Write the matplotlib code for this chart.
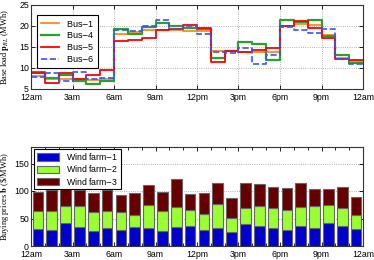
import matplotlib
matplotlib.use("Agg")
import matplotlib.pyplot as plt
import numpy as np

hours = np.arange(24)
bus1 = [8.2, 7.4, 7.3, 7.3, 7.2, 7.4, 18.0, 18.5, 19.0, 19.0, 19.0, 18.8, 18.7, 14.1, 14.0, 13.7, 13.7, 13.8, 19.9, 20.4, 20.2, 17.9, 12.3, 11.6]
bus4 = [9.0, 7.5, 8.4, 6.8, 6.3, 7.0, 19.2, 18.0, 19.7, 20.6, 20.0, 19.5, 19.2, 12.3, 14.0, 16.2, 15.8, 12.0, 21.5, 20.9, 21.5, 17.6, 13.1, 11.1]
bus5 = [8.8, 6.5, 8.7, 7.4, 8.3, 9.5, 16.5, 16.7, 17.2, 19.1, 19.2, 20.3, 19.5, 11.5, 14.0, 13.8, 14.3, 14.8, 19.9, 21.2, 19.6, 17.1, 12.2, 11.8]
bus6 = [7.8, 8.7, 6.8, 9.0, 7.4, 7.6, 19.0, 18.9, 20.0, 21.4, 19.2, 19.9, 18.2, 13.8, 13.5, 14.8, 10.9, 13.2, 19.7, 19.0, 18.4, 19.3, 12.2, 10.9]

wind1 = [31, 30, 42, 35, 27, 33, 29, 35, 33, 27, 35, 37, 29, 32, 26, 40, 36, 33, 29, 37, 33, 41, 36, 31]
wind2 = [33, 34, 31, 38, 35, 31, 32, 22, 42, 37, 36, 28, 30, 44, 25, 30, 37, 36, 36, 34, 40, 34, 33, 26]
wind3 = [35, 38, 38, 28, 34, 37, 32, 39, 36, 35, 50, 30, 37, 38, 37, 44, 39, 38, 40, 43, 31, 28, 38, 32]

tick_pos = [0, 3, 6, 9, 12, 15, 18, 21, 24]
tick_labels = ["12am", "3am", "6am", "9am", "12pm", "3pm", "6pm", "9pm", "12am"]

plt.rcParams['font.family'] = ['Liberation Sans', 'DejaVu Sans']
plt.rcParams['mathtext.fontset'] = 'stix'

fig = plt.figure(figsize=(3.74, 2.60), dpi=100)
L, R = 31, 363
ax1 = fig.add_axes([L/374, 1-89/260, (R-L)/374, 84/260])
ax2 = fig.add_axes([L/374, 1-246/260, (R-L)/374, 99/260])

def stepdata(v):
    return np.append(hours, 24), np.append(v, v[-1])

series = [(bus1, '#FF7F0E', '-', 1.2, 'Bus$-$1'),
          (bus4, '#2CA02C', '-', 1.6, 'Bus$-$4'),
          (bus5, '#FF0000', '-', 1.3, 'Bus$-$5'),
          (bus6, '#3355FF', '--', 1.2, 'Bus$-$6')]
for v, c, ls, lw, lab in series:
    x, y = stepdata(v)
    ax1.step(x, y, where='post', color=c, ls=ls, lw=lw, label=lab)

ax1.set_xlim(0, 24)
ax1.set_ylim(5, 25)
ax1.set_yticks([5, 10, 15, 20, 25])
ax1.set_xticks(tick_pos)
ax1.set_xticklabels(tick_labels)
ax1.grid(True, ls=':', color='#999999', lw=0.6)
ax1.set_ylabel('Base load $\\mathbf{p}_{RL}$ (MWh)', family='Liberation Serif', fontsize=6)
leg = ax1.legend(loc='upper left', fontsize=6.5, fancybox=False, edgecolor='black',
                 framealpha=1, borderpad=0.4, handlelength=2.0, labelspacing=0.2,
                 bbox_to_anchor=(0.005, 0.935))
leg.get_frame().set_linewidth(0.8)

w = 0.78
b1 = np.array(wind1); b2 = np.array(wind2); b3 = np.array(wind3)
ax2.bar(hours + 0.5, b1, width=w, color='#0000CC', edgecolor='#666666', lw=0.8, label='Wind farm$-$1')
ax2.bar(hours + 0.5, b2, width=w, bottom=b1, color='#99FF33', edgecolor='#666666', lw=0.8, label='Wind farm$-$2')
ax2.bar(hours + 0.5, b3, width=w, bottom=b1 + b2, color='#660000', edgecolor='#666666', lw=0.8, label='Wind farm$-$3')
ax2.set_xlim(0, 24)
ax2.set_ylim(0, 180)
ax2.set_yticks([0, 50, 100, 150])
ax2.set_xticks(tick_pos)
ax2.set_xticklabels(tick_labels)
ax2.set_xticks(np.arange(25), minor=True)
ax2.yaxis.grid(True, ls=':', color='#999999', lw=0.6)
ax2.set_axisbelow(True)
ax2.set_ylabel('Buying prices $\\mathbf{b}$ (\\$/MWh)', family='Liberation Serif', fontsize=6)
leg2 = ax2.legend(loc='upper left', fontsize=6.3, fancybox=False, edgecolor='black',
                  framealpha=1, borderpad=0.25, handlelength=2.6, handleheight=0.9,
                  labelspacing=0.15, borderaxespad=0.2, bbox_to_anchor=(0.005, 1.0))
leg2.get_frame().set_linewidth(0.8)

for ax in (ax1, ax2):
    ax.tick_params(direction='in', top=True, right=True, labelsize=6.3, length=3, width=0.6, pad=1.5)
    ax.tick_params(axis='x', pad=3)
    ax.tick_params(which='minor', direction='in', top=True, bottom=True, length=2, width=0.6)
    ax.yaxis.set_label_coords(-19.5/332, 0.5)
    for s in ax.spines.values():
        s.set_linewidth(0.8)
        s.set_color('#333333')

fig.savefig('out.png', dpi=100)
